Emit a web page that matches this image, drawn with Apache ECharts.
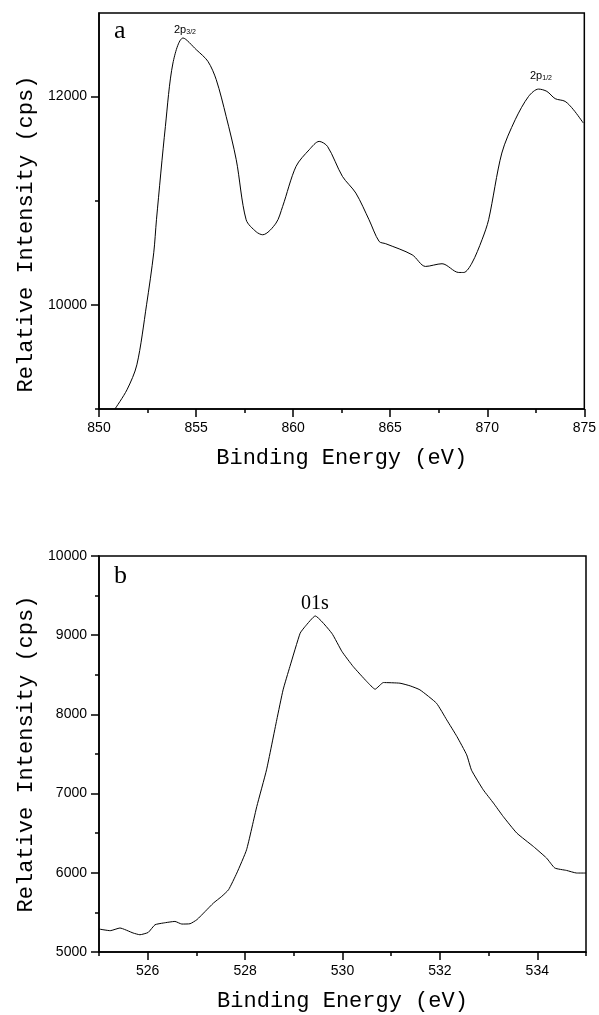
<!DOCTYPE html>
<html>
<head>
<meta charset="utf-8">
<script src="https://cdn.jsdelivr.net/npm/echarts@6/dist/echarts.min.js"></script>
<style>
html,body{margin:0;padding:0;background:#fff;}
#c{width:599px;height:1015px;}
</style>
</head>
<body>
<div id="c"></div>
<script>
// ---- Panel a: Ni 2p spectrum ----
const energyA = [850.82, 851.44, 851.95, 852.45, 852.82, 852.96, 853.42, 853.81, 854.33, 855.01, 855.61, 856.04, 856.55, 857.07, 857.58, 858.1, 858.43, 859.12, 859.46, 860.15, 860.83, 861.34, 861.77, 862.54, 863.23, 863.91, 864.43, 864.77, 866.13, 866.82, 867.67, 868.53, 868.79, 869.21, 869.73, 870.07, 870.75, 871.44, 872.13, 872.64, 873.07, 873.5, 874.01, 874.44, 874.95];
const intensityA = [9000, 9184, 9424, 10000, 10499, 10816, 11712, 12320, 12560, 12448, 12336, 12160, 11808, 11392, 10816, 10700, 10672, 10784, 10944, 11328, 11488, 11568, 11520, 11232, 11072, 10816, 10608, 10586, 10480, 10368, 10394, 10310, 10310, 10400, 10624, 10816, 11456, 11776, 12000, 12070, 12048, 11978, 11952, 11872, 11744];
const xTicksAMajor = [850, 855, 860, 865, 870, 875];
const xTicksAMinor = [852.5, 857.5, 862.5, 867.5, 872.5];
const yTicksAMajor = [10000, 12000];
const yTicksAMinor = [9000, 11000];

// ---- Panel b: O 1s spectrum ----
const energyB = [525, 525.23, 525.43, 525.7, 525.84, 526.01, 526.15, 526.32, 526.56, 526.7, 526.87, 527.01, 527.18, 527.35, 527.52, 527.66, 527.83, 528.03, 528.24, 528.44, 528.65, 528.78, 528.92, 529.13, 529.23, 529.44, 529.78, 529.99, 530.22, 530.5, 530.67, 530.84, 531.18, 531.39, 531.59, 531.93, 532.14, 532.35, 532.55, 532.65, 532.89, 533.1, 533.3, 533.58, 533.92, 534.19, 534.36, 534.6, 534.81, 535];
const intensityB = [5290, 5269, 5303, 5240, 5218, 5247, 5344, 5366, 5386, 5353, 5357, 5408, 5512, 5618, 5702, 5786, 5997, 6291, 6837, 7300, 7931, 8310, 8604, 9025, 9108, 9243, 9025, 8793, 8604, 8414, 8318, 8402, 8394, 8360, 8310, 8141, 7931, 7720, 7489, 7295, 7048, 6880, 6711, 6501, 6332, 6186, 6060, 6030, 5997, 5997];
const xTicksBMajor = [526, 528, 530, 532, 534];
const xTicksBMinor = [525, 527, 529, 531, 533, 535];
const yTicksBMajor = [5000, 6000, 7000, 8000, 9000, 10000];
const yTicksBMinor = [5500, 6500, 7500, 8500, 9500];

const xTitle = 'Binding Energy (eV)';
const yTitle = 'Relative Intensity (cps)';

const titleFont = {fontFamily: 'Liberation Mono', fontSize: 22, color: '#000'};
const labelFont = {fontFamily: 'Liberation Sans', fontSize: 14, color: '#000'};
const axisLineStyle = {color: '#000', width: 1.5};

function majorAxis(gridIndex, position, min, max, ticks, extra) {
  return Object.assign({
    type: 'value', gridIndex, position, min, max,
    axisLine: {show: true, onZero: false, lineStyle: axisLineStyle},
    axisTick: {show: true, customValues: ticks, length: 8, lineStyle: axisLineStyle},
    axisLabel: Object.assign({customValues: ticks, margin: 12, formatter: v => String(v)}, labelFont),
    splitLine: {show: false}
  }, extra || {});
}
function minorAxis(gridIndex, position, min, max, ticks) {
  return {
    type: 'value', gridIndex, position, min, max,
    axisLine: {show: false, onZero: false},
    axisTick: {show: true, customValues: ticks, length: 4, lineStyle: axisLineStyle},
    axisLabel: {show: false},
    splitLine: {show: false}
  };
}

const chart = echarts.init(document.getElementById('c'), null, {renderer: 'canvas'});
chart.setOption({
  animation: false,
  backgroundColor: '#fff',
  grid: [
    {left: 99, right: 13, top: 13, height: 396, show: true, borderColor: '#000', borderWidth: 1.5},
    {left: 99, right: 13, top: 556, height: 396, show: true, borderColor: '#000', borderWidth: 1.5}
  ],
  xAxis: [
    majorAxis(0, 'bottom', 850, 875, xTicksAMajor, {name: xTitle, nameLocation: 'middle', nameGap: 38, nameTextStyle: titleFont}),
    minorAxis(0, 'bottom', 850, 875, xTicksAMinor),
    majorAxis(1, 'bottom', 525, 535, xTicksBMajor, {name: xTitle, nameLocation: 'middle', nameGap: 38, nameTextStyle: titleFont}),
    minorAxis(1, 'bottom', 525, 535, xTicksBMinor)
  ],
  yAxis: [
    majorAxis(0, 'left', 9000, 12800, yTicksAMajor, {name: yTitle, nameLocation: 'middle', nameGap: 56, nameRotate: 90, nameTextStyle: Object.assign({padding: [0, 46, 0, 0]}, titleFont)}),
    minorAxis(0, 'left', 9000, 12800, yTicksAMinor),
    majorAxis(1, 'left', 5000, 10000, yTicksBMajor, {name: yTitle, nameLocation: 'middle', nameGap: 62, nameRotate: 90, nameTextStyle: titleFont}),
    minorAxis(1, 'left', 5000, 10000, yTicksBMinor)
  ],
  series: [
    {type: 'line', xAxisIndex: 0, yAxisIndex: 0, data: energyA.map((e, i) => [e, intensityA[i]]),
     showSymbol: false, smooth: 0.3, lineStyle: {color: '#000', width: 1}},
    {type: 'line', xAxisIndex: 2, yAxisIndex: 2, data: energyB.map((e, i) => [e, intensityB[i]]),
     showSymbol: false, smooth: 0.15, lineStyle: {color: '#000', width: 1}}
  ],
  graphic: [
    {type: 'text', left: 114, top: 18, style: {text: 'a', font: '26px "Liberation Serif"', fill: '#000'}},
    {type: 'text', left: 114, top: 563, style: {text: 'b', font: '26px "Liberation Serif"', fill: '#000'}},
    {type: 'text', left: 301, top: 594, style: {text: '01s', font: '20px "Liberation Serif"', fill: '#000'}},
    {type: 'text', left: 174, top: 24, style: {
      text: '{m|2p}{s|3/2}', fill: '#000',
      rich: {m: {fontFamily: 'Liberation Sans', fontSize: 11, color: '#000'}, s: {fontFamily: 'Liberation Sans', fontSize: 7, color: '#000', padding: [6, 0, 0, 0]}}
    }},
    {type: 'text', left: 530, top: 70, style: {
      text: '{m|2p}{s|1/2}', fill: '#000',
      rich: {m: {fontFamily: 'Liberation Sans', fontSize: 11, color: '#000'}, s: {fontFamily: 'Liberation Sans', fontSize: 7, color: '#000', padding: [6, 0, 0, 0]}}
    }}
  ]
});
</script>
</body>
</html>
